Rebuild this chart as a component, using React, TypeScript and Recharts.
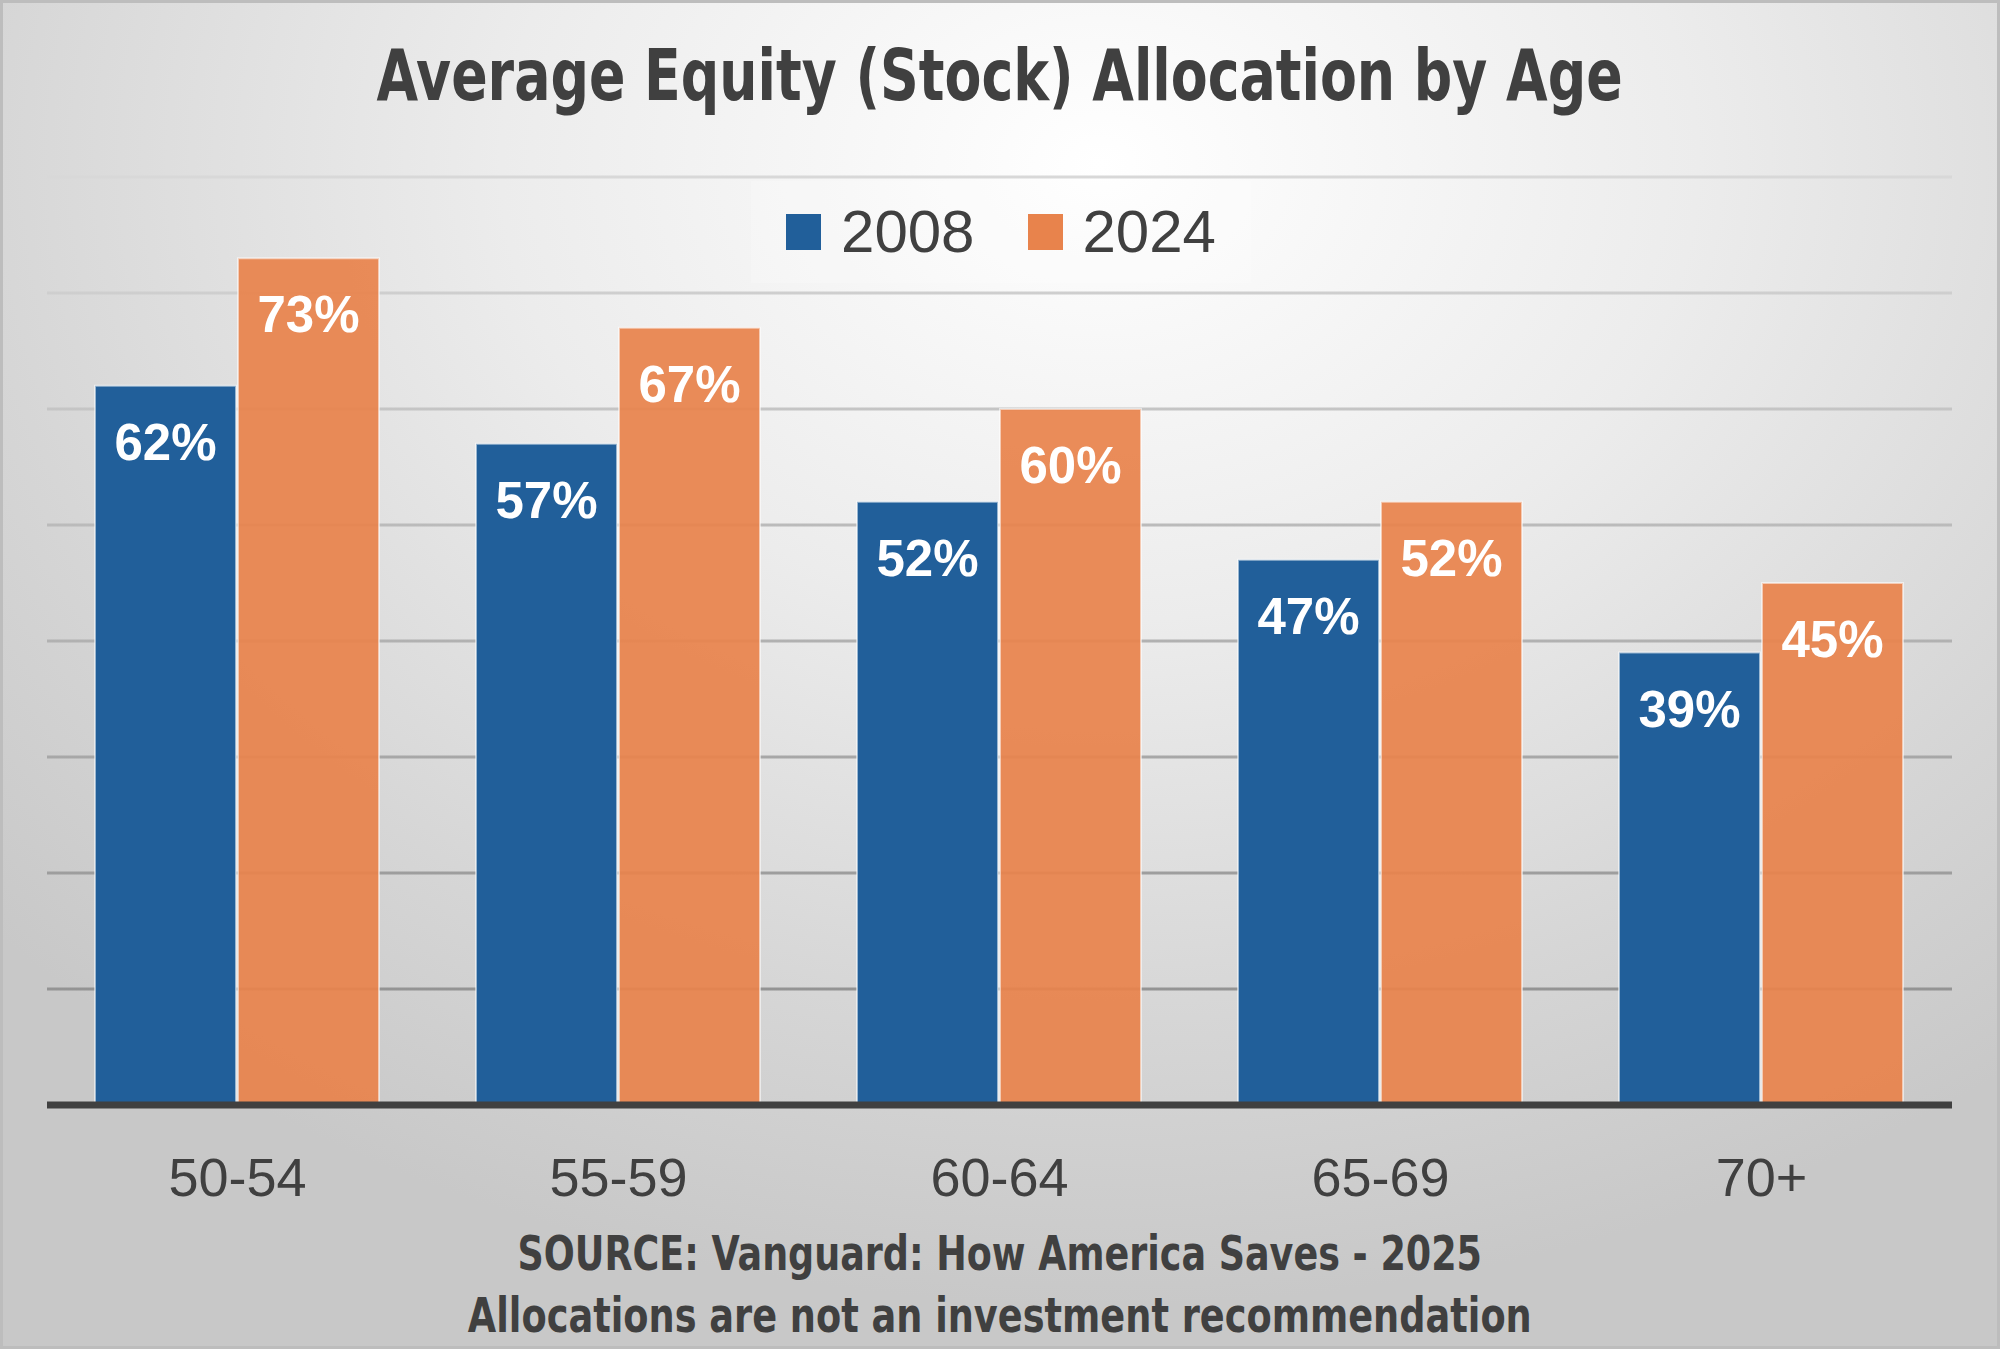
import React from 'react'
import { BarChart, Bar, XAxis, YAxis, CartesianGrid, Legend, LabelList } from 'recharts'

const ageGroups = ['50-54', '55-59', '60-64', '65-69', '70+']
const alloc2008 = [62, 57, 52, 47, 39]
const alloc2024 = [73, 67, 60, 52, 45]
const yTicks = [0, 10, 20, 30, 40, 50, 60, 70, 80]

const data = ageGroups.map((age, i) => ({ age, y2008: alloc2008[i], y2024: alloc2024[i] }))

const BLUE = '#215F9A'
const ORANGE = '#E8834C'
const TEXT = '#404040'
const BOLD_FONT = '"DejaVu Sans Condensed", "DejaVu Sans", sans-serif'

function BarLabel(props: any) {
  const { x, y, width, value } = props
  return (
    <text
      x={x + width / 2}
      y={y + 74}
      textAnchor="middle"
      fill="#fff"
      fontFamily="'Liberation Sans', Arial, sans-serif"
      fontWeight="bold"
      fontSize={51}
    >
      {value}%
    </text>
  )
}

function LegendBox(props: any) {
  const items = props.payload || []
  return (
    <div
      style={{
        width: '100%',
        height: '100%',
        background: 'rgba(255,255,255,0.2)',
        display: 'flex',
        alignItems: 'center',
        justifyContent: 'center',
        gap: 53,
      }}
    >
      {items.map((it: any) => (
        <div key={it.value} style={{ display: 'flex', alignItems: 'center' }}>
          <span style={{ width: 35, height: 36, background: it.color, display: 'inline-block', marginRight: 20 }} />
          <span style={{ fontFamily: "'Liberation Sans', Arial, sans-serif", fontSize: 60, color: TEXT, lineHeight: 1 }}>
            {it.value}
          </span>
        </div>
      ))}
    </div>
  )
}

// condensed bold text line, centred across the full width
function NarrowLine({ text, scale }: { text: string; scale: number }) {
  return (
    <div style={{ width: 2000, textAlign: 'center' }}>
      <span style={{ display: 'inline-block', transform: `scaleX(${scale})`, transformOrigin: 'center', whiteSpace: 'nowrap' }}>
        {text}
      </span>
    </div>
  )
}

export default function App() {
  return (
    <div
      style={{
        position: 'absolute',
        left: 0,
        top: 0,
        width: 2000,
        height: 1349,
        boxSizing: 'border-box',
        border: '3px solid #bdbdbd',
        background: 'radial-gradient(ellipse 75% 85% at 55% 12%, #ffffff 0%, #ececec 40%, #d6d6d6 75%, #c8c8c8 100%)',
        overflow: 'hidden',
      }}
    >
      <div
        style={{
          position: 'absolute',
          top: 29,
          left: -3,
          fontFamily: BOLD_FONT,
          fontWeight: 'bold',
          fontSize: 72,
          color: TEXT,
          lineHeight: 1.2,
        }}
      >
        <NarrowLine text="Average Equity (Stock) Allocation by Age" scale={0.83} />
      </div>
      <div style={{ position: 'absolute', left: -3, top: -3 }}>
        <BarChart
          width={2000}
          height={1349}
          data={data}
          margin={{ top: 177, right: 48, bottom: 0, left: 47 }}
          barCategoryGap="12.6%"
          barGap={2}
        >
          <defs>
            <linearGradient id="gridGrad" gradientUnits="userSpaceOnUse" x1="0" y1="177" x2="0" y2="1105">
              <stop offset="0%" stopColor="#d8d8d8" />
              <stop offset="100%" stopColor="#8a8a8a" />
            </linearGradient>
          </defs>
          <CartesianGrid vertical={false} stroke="url(#gridGrad)" strokeWidth={3} />
          <YAxis hide domain={[0, 80]} ticks={yTicks} />
          <XAxis
            dataKey="age"
            height={244}
            axisLine={{ stroke: TEXT, strokeWidth: 7 }}
            tickLine={false}
            tickSize={0}
            tickMargin={53}
            tick={{ fill: TEXT, fontSize: 54, fontFamily: "'Liberation Sans', Arial, sans-serif" }}
          />
          <Legend
            verticalAlign="middle"
            align="center"
            layout="horizontal"
            wrapperStyle={{ top: 181, left: 751, width: 500, height: 102 }}
            content={<LegendBox />}
          />
          <Bar dataKey="y2008" name="2008" fill={BLUE} stroke="rgba(255,255,255,0.55)" strokeWidth={2} isAnimationActive={false}>
            <LabelList dataKey="y2008" content={<BarLabel />} />
          </Bar>
          <Bar
            dataKey="y2024"
            name="2024"
            fill={ORANGE}
            fillOpacity={0.93}
            stroke="rgba(255,255,255,0.55)"
            strokeWidth={2}
            isAnimationActive={false}
          >
            <LabelList dataKey="y2024" content={<BarLabel />} />
          </Bar>
        </BarChart>
      </div>
      <div
        style={{
          position: 'absolute',
          top: 1219,
          left: -3,
          fontFamily: BOLD_FONT,
          fontWeight: 'bold',
          fontSize: 48,
          color: TEXT,
          lineHeight: '62px',
        }}
      >
        <NarrowLine text="SOURCE: Vanguard: How America Saves - 2025" scale={0.845} />
        <NarrowLine text="Allocations are not an investment recommendation" scale={0.85} />
      </div>
    </div>
  )
}
